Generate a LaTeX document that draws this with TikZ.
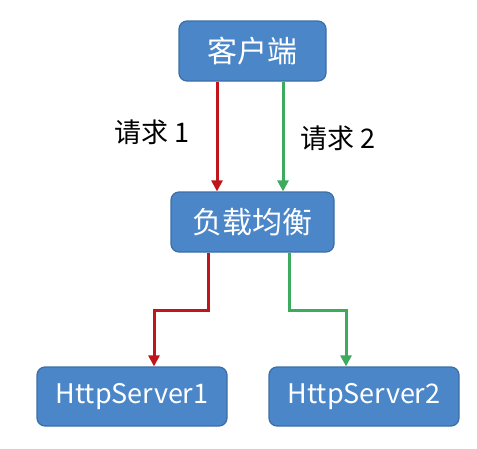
\documentclass[tikz,border=0pt]{standalone}
\usepackage{fontspec}
\setmainfont{Noto Sans CJK SC}
\usetikzlibrary{arrows.meta}
\definecolor{boxfill}{HTML}{4A86C8}
\definecolor{boxline}{HTML}{3B6EA5}
\definecolor{redline}{HTML}{C0161B}
\definecolor{greenline}{HTML}{3DAA5E}
\tikzset{
  box/.style={draw=boxline, line width=1.2pt, fill=boxfill, rounded corners=8pt, text=white, inner sep=0pt},
  conn/.style={line width=3pt, -{Triangle[length=11pt,width=11pt]}},
  lbl/.style={font=\fontsize{27}{32}\selectfont, text=black}
}
\begin{document}
\begin{tikzpicture}[x=1pt,y=-1pt]
\useasboundingbox (0,0) rectangle (477,448);
\node[box, minimum width=147pt, minimum height=60pt, font=\fontsize{30}{36}\selectfont] (client) at (252.5,51) {客户端};
\node[box, minimum width=163pt, minimum height=60pt, font=\fontsize{30}{36}\selectfont] (lb) at (252.5,222) {负载均衡};
\node[box, minimum width=190pt, minimum height=59pt, font=\fontsize{27}{32}\selectfont] (s1) at (132,396.5) {HttpServer1};
\node[box, minimum width=190pt, minimum height=59pt, font=\fontsize{27}{32}\selectfont] (s2) at (364,396.5) {HttpServer2};
\coordinate (r1) at (208,310);
\coordinate (r2) at (154,310);
\coordinate (g1) at (289,310);
\coordinate (g2) at (346,310);
\draw[conn, redline] (client.south -| 217,0) -- (lb.north -| 217,0);
\draw[conn, greenline] (client.south -| 283,0) -- (lb.north -| 283,0);
\draw[conn, redline] (lb.south -| r1) -- (r1) -- (r2) -- (s1.north -| r2);
\draw[conn, greenline] (lb.south -| g1) -- (g1) -- (g2) -- (s2.north -| g2);
\node[lbl] (l1) at (152,132) {请求 1};
\node[lbl] (l2) at (338,138) {请求 2};
\end{tikzpicture}
\end{document}
